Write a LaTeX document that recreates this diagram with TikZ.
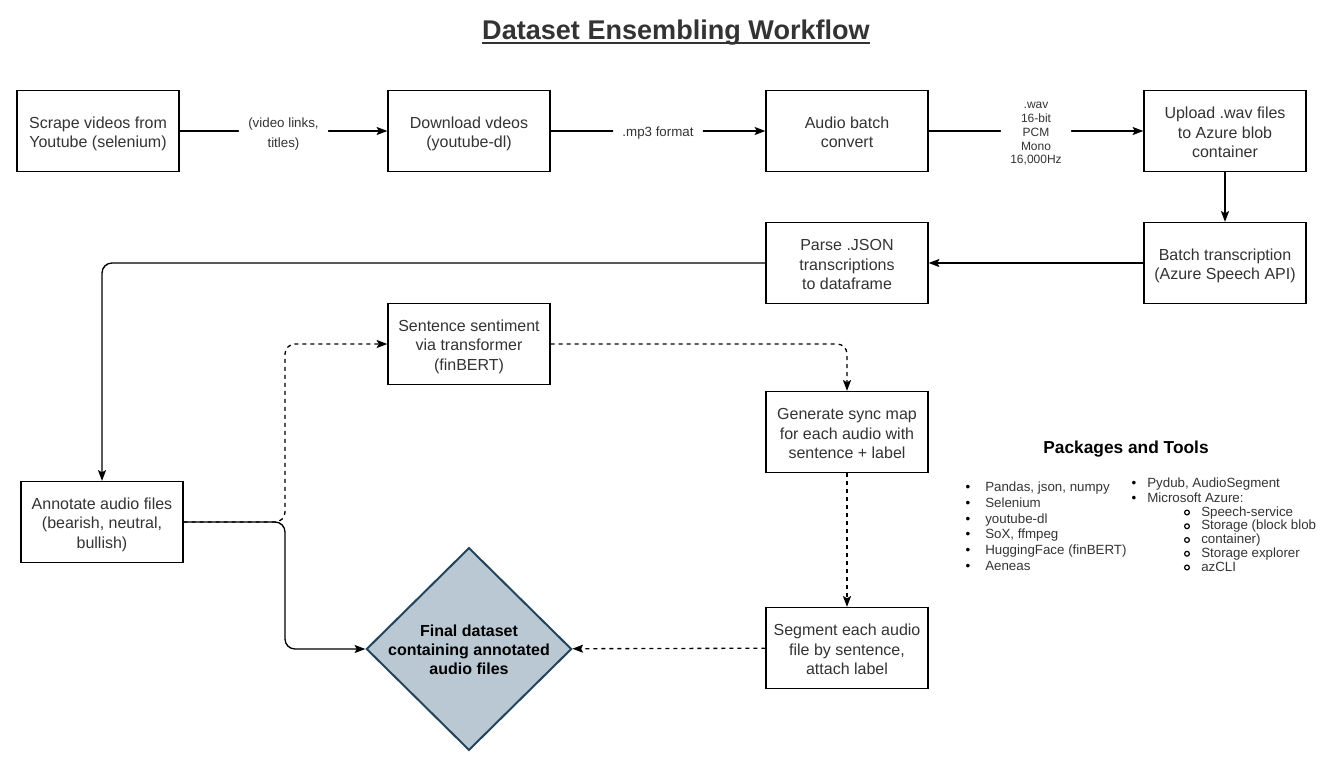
\documentclass[tikz,border=0pt]{standalone}
\usepackage{fontspec}
\setmainfont{Liberation Sans}
\usetikzlibrary{shapes.geometric, arrows.meta}
\definecolor{ink}{HTML}{333333}
\definecolor{slate}{HTML}{BAC8D3}
\definecolor{slateline}{HTML}{23445D}
\newcommand{\liftline}[1][12.6pt]{\rule{0pt}{#1}}

\begin{document}
\begin{tikzpicture}[x=0.75pt, y=-0.75pt,
    stage/.style={draw=black, line width=1pt, fill=white, text=ink, minimum width=121.5pt, minimum height=60.75pt, align=center, inner sep=2pt, font=\fontsize{12}{14.5}\selectfont,
        execute at end node={\rule[-2pt]{0pt}{0pt}}},
    goal/.style={diamond, draw=slateline, line width=1.5pt, fill=slate, minimum width=154pt, minimum height=152pt, inner sep=-8pt, align=center, font=\fontsize{12}{14.5}\selectfont\bfseries,
        execute at end node={\rule[-2pt]{0pt}{0pt}}},
    flow/.style={line width=1pt, -{Stealth[length=8pt, width=6pt, inset=1.5pt]}, rounded corners=7.5pt},
    maybe/.style={flow, dash pattern=on 3pt off 3pt},
    edgetag/.style={fill=white, text=ink, align=center, inner ysep=1pt, inner xsep=7pt, font=\fontsize{10}{15}\selectfont},
    entry/.style={anchor=base west, text=ink, inner sep=0pt, font=\fontsize{10}{12}\selectfont},
    ring/.style={circle, draw=black, line width=0.9pt, minimum size=3.6pt, inner sep=0pt}]

    \useasboundingbox (0,0) rectangle (1336,771);

    \node[anchor=base, text=ink, inner sep=0pt, font=\fontsize{20.3}{24}\selectfont\bfseries] (title) at (676,39) {Dataset Ensembling Workflow};
    \draw[ink, line width=1.5pt] ([yshift=-3.2pt]title.base west) -- ([yshift=-3.2pt]title.base east);

    \node[stage] (scrape) at (98,131) {\liftline Scrape videos from\\Youtube (selenium)};
    \node[stage] (download) at (469,131) {\liftline Download vdeos\\(youtube-dl)};
    \node[stage] (convert) at (847,131) {\liftline Audio batch\\convert};
    \node[stage] (upload) at (1225,131) {\liftline Upload .wav files\\to Azure blob\\container};
    \node[stage] (transcribe) at (1225,263) {\liftline Batch transcription\\(Azure Speech API)};
    \node[stage] (parse) at (847,263) {\liftline Parse .JSON\\transcriptions\\to dataframe};
    \node[stage] (sentiment) at (469,344) {\liftline Sentence sentiment\\via transformer\\(finBERT)};
    \node[stage] (syncmap) at (847,432) {\liftline Generate sync map\\for each audio with\\sentence + label};
    \node[stage] (annotate) at (102,522) {\liftline Annotate audio files\\(bearish, neutral,\\bullish)};
    \node[stage] (segment) at (847,648) {\liftline Segment each audio\\file by sentence,\\attach label};
    \node[goal] (final) at (469,649) {\liftline[11.8pt]Final dataset\\containing annotated\\audio files};

    \draw[flow] (scrape) -- node[edgetag] {\liftline[11.6pt](video links,\\titles)} (download);
    \draw[flow] (download) -- node[edgetag] {\liftline[10pt].mp3 format} (convert);
    \draw[flow] (convert) -- node[edgetag, font=\fontsize{9}{10.3}\selectfont] {\liftline[9.2pt].wav\\16-bit\\PCM\\Mono\\16,000Hz} (upload);
    \draw[flow] (upload) -- (transcribe);
    \draw[flow] (transcribe) -- (parse);
    \draw[flow] (parse.west) -| (annotate.north);
    \coordinate (fork) at (285,522);
    \draw[flow] (annotate.east) -- (fork) |- (final.west);
    \draw[maybe] (annotate.east) -- (fork) |- (sentiment.west);
    \draw[maybe] (sentiment.east) -| (syncmap.north);
    \draw[maybe] (syncmap) -- (segment);
    \draw[maybe] (segment) -- (final);

    \node[font=\fontsize{13}{15}\selectfont\bfseries] (tools) at (1126,449) {Packages and Tools};
    \foreach \txt [count=\i] in {{Pandas, json, numpy}, Selenium, youtube-dl, {SoX, ffmpeg}, {HuggingFace (finBERT)}, Aeneas} {
        \node[entry, anchor=base, text=black] (dotl\i) at (968,{475.7+15.8*\i}) {•};
        \node[entry] (left\i) at (985,{475.7+15.8*\i}) {\txt};
    }
    \foreach \txt [count=\i] in {{Pydub, AudioSegment}, {Microsoft Azure:}} {
        \node[entry, anchor=base, text=black] (dotr\i) at (1134,{472.5+15*\i}) {•};
        \node[entry] (right\i) at (1147,{472.5+15*\i}) {\txt};
    }
    \foreach \txt [count=\i] in {Speech-service, {Storage (block blob}, container), {Storage explorer}, azCLI} {
        \node[ring] (ring\i) at (1187,{498.75+13.75*\i}) {};
        \node[entry] (azure\i) at (1201,{502.25+13.75*\i}) {\txt};
    }
\end{tikzpicture}
\end{document}
